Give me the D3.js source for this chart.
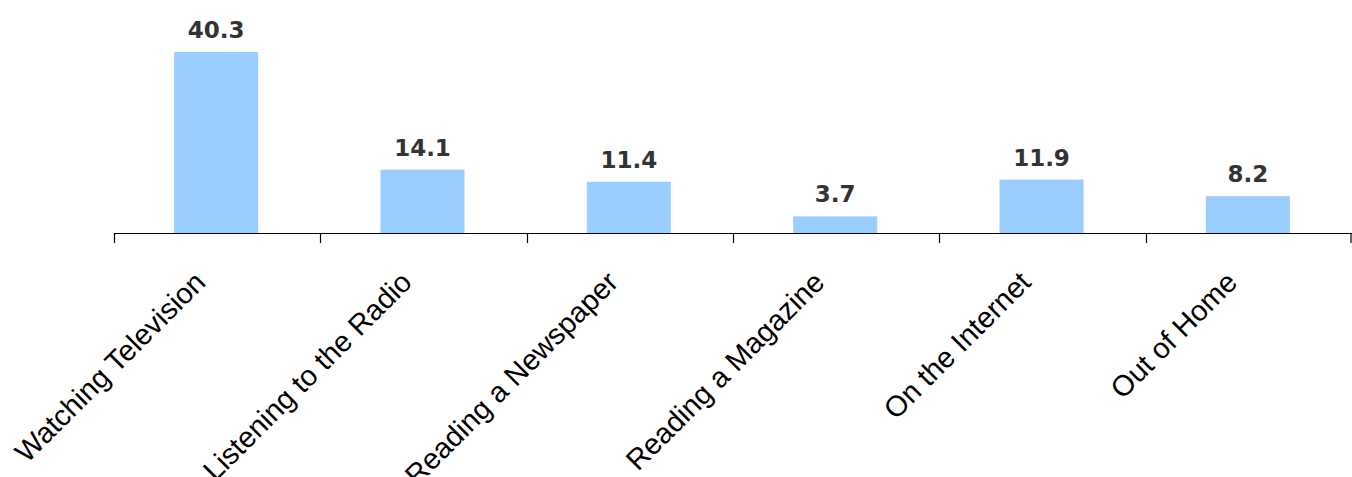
<!DOCTYPE html>
<html>
<head>
<meta charset="utf-8">
<script src="https://cdn.jsdelivr.net/npm/d3@7"></script>
<style>
  html, body { margin: 0; padding: 0; background: #fff; }
  svg { display: block; }
</style>
</head>
<body>
<svg id="chart" width="1352" height="477"></svg>
<script>
// data
const categories = ["Watching Television", "Listening to the Radio", "Reading a Newspaper",
    "Reading a Magazine", "On the Internet", "Out of Home"];
const values = [40.3, 14.1, 11.4, 3.7, 11.9, 8.2];

const svg = d3.select("#chart");

const x = d3.scaleBand()
    .domain(categories)
    .range([114, 1352])
    .paddingInner(0.593)
    .paddingOuter(0.2965);

const y = d3.scaleLinear()
    .domain([0, 40.3])
    .range([233, 52]);

// bars
svg.append("g")
    .selectAll("rect")
    .data(values)
    .enter()
    .append("rect")
    .attr("x", (d, i) => x(categories[i]) - 1)
    .attr("y", d => y(d))
    .attr("width", x.bandwidth())
    .attr("height", d => y(0) - y(d))
    .attr("fill", "#99ccff");

// value labels
svg.append("g")
    .selectAll("text")
    .data(values)
    .enter()
    .append("text")
    .attr("x", (d, i) => x(categories[i]) - 1 + x.bandwidth() / 2)
    .attr("y", d => y(d) - 14)
    .attr("text-anchor", "middle")
    .attr("font-family", "'DejaVu Sans', Verdana, sans-serif")
    .attr("font-weight", "bold")
    .attr("font-size", "23px")
    .attr("fill", "#333333")
    .text(d => d.toFixed(1));

// x axis: ticks at category boundaries
const step = x.step();
const boundaries = d3.range(categories.length + 1).map(i => 114 + i * step);

const axis = svg.append("g");
axis.append("line")
    .attr("x1", 114)
    .attr("x2", 1352)
    .attr("y1", y(0) + 0.5)
    .attr("y2", y(0) + 0.5)
    .attr("stroke", "#000")
    .attr("stroke-width", 1.2);

axis.selectAll("line.tick")
    .data(boundaries)
    .enter()
    .append("line")
    .attr("class", "tick")
    .attr("x1", d => Math.min(Math.round(d) + 0.5, 1351))
    .attr("x2", d => Math.min(Math.round(d) + 0.5, 1351))
    .attr("y1", y(0))
    .attr("y2", y(0) + 10)
    .attr("stroke", "#000")
    .attr("stroke-width", 1.2);

// category labels
axis.selectAll("text")
    .data(categories)
    .enter()
    .append("text")
    .attr("transform", d => `translate(${x(d) + x.bandwidth() / 2 - 10},284) rotate(-45)`)
    .attr("text-anchor", "end")
    .attr("font-family", "'Liberation Sans', Arial, sans-serif")
    .attr("font-size", "29px")
    .attr("fill", "#000")
    .text(d => d);
</script>
</body>
</html>
